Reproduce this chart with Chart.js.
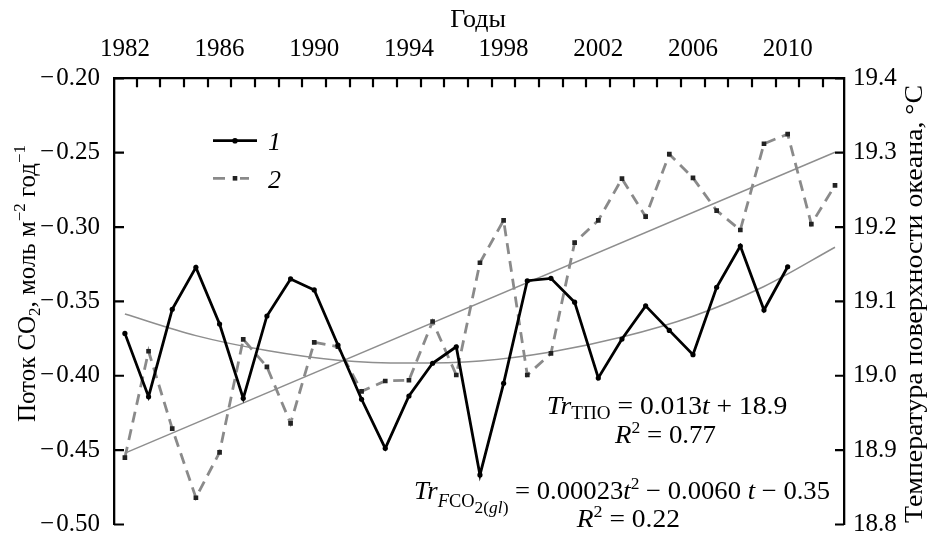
<!DOCTYPE html>
<html><head><meta charset="utf-8">
<script src="https://cdn.jsdelivr.net/npm/chart.js@4.4.0/dist/chart.umd.min.js"></script>
<style>html,body{margin:0;padding:0;background:#fff;}#wrap{width:928px;height:536px;}</style>
</head><body><div id="wrap"><canvas id="c" width="928" height="536" style="width:928px;height:536px"></canvas></div>
<script>
// ---- data ----
const fluxYears = [1982,1983,1984,1985,1986,1987,1988,1989,1990,1991,1992,1993,1994,1995,1996,1997,1998,1999,2000,2001,2002,2003,2004,2005,2006,2007,2008,2009,2010];
const fluxValues = [-0.3715,-0.4141,-0.3553,-0.3271,-0.3652,-0.4152,-0.3598,-0.3349,-0.3423,-0.3793,-0.4158,-0.4488,-0.4136,-0.3916,-0.3805,-0.4667,-0.4051,-0.3361,-0.3345,-0.3505,-0.4015,-0.3753,-0.3530,-0.3695,-0.3858,-0.3405,-0.3128,-0.3558,-0.3267];
const sstYears = [1982,1983,1984,1985,1986,1987,1988,1989,1990,1991,1992,1993,1994,1995,1996,1997,1998,1999,2000,2001,2002,2003,2004,2005,2006,2007,2008,2009,2010,2011,2012];
const sstValues = [18.890,19.033,18.929,18.836,18.897,19.049,19.012,18.936,19.045,19.039,18.979,18.993,18.994,19.073,19.001,19.152,19.209,19.001,19.030,19.179,19.209,19.265,19.214,19.298,19.266,19.222,19.196,19.312,19.325,19.204,19.256];
const sstTrendYears = [1982,2012];
const sstTrendValues = [18.896,19.3005];
const fluxTrendYears = [1982,1985,1988,1991,1994,1997,2000,2003,2006,2009,2012];
const fluxTrendValues = [-0.3585,-0.3730,-0.3830,-0.3895,-0.3915,-0.3900,-0.3840,-0.3740,-0.3600,-0.3400,-0.3136];
const xTickYears = [1982,1986,1990,1994,1998,2002,2006,2010];
const leftTicks = [-0.50,-0.45,-0.40,-0.35,-0.30,-0.25,-0.20];
const rightTicks = [18.8,18.9,19.0,19.1,19.2,19.3,19.4];
const seriesLabels = ['1','2'];

const FAM = '"Liberation Serif","DejaVu Serif",serif';
const pts = (xs, ys) => xs.map((x, i) => ({x: x, y: ys[i]}));

function fontStr(size, it){ return (it ? 'italic ' : '') + size + 'px ' + FAM; }
// segs: [text, size, italic, dy]
function richWidth(ctx, segs){
  let w = 0;
  for (const s of segs){ ctx.font = fontStr(s[1], s[2]); w += ctx.measureText(s[0]).width; }
  return w;
}
function drawRich(ctx, segs, x, y, align, targetW){
  const w = richWidth(ctx, segs);
  const W = targetW || w;
  const x0 = align === 'center' ? x - W/2 : (align === 'right' ? x - W : x);
  ctx.save();
  ctx.translate(x0, y);
  ctx.scale(W / w, 1);
  ctx.textBaseline = 'alphabetic'; ctx.textAlign = 'left'; ctx.fillStyle = '#000';
  let cx = 0;
  for (const s of segs){
    ctx.font = fontStr(s[1], s[2]);
    ctx.fillText(s[0], cx, s[3] || 0);
    cx += ctx.measureText(s[0]).width;
  }
  ctx.restore();
}

const decor = {
  id: 'decor',
  afterDraw(chart){
    const ctx = chart.ctx, a = chart.chartArea;
    const sx = chart.scales.x, sy = chart.scales.y, sy2 = chart.scales.y2;
    ctx.save();
    ctx.strokeStyle = '#000'; ctx.lineWidth = 2.2;
    // inward tick marks
    ctx.beginPath();
    for (let v = 1982.5; v < 2012; v += 1){
      const px = Math.round(sx.getPixelForValue(v));
      ctx.moveTo(px, a.top); ctx.lineTo(px, a.top + 9);
    }
    for (const v of leftTicks){
      const py = sy.getPixelForValue(v);
      ctx.moveTo(a.left, py); ctx.lineTo(a.left + 10, py);
    }
    for (const v of rightTicks){
      const py = sy2.getPixelForValue(v);
      ctx.moveTo(a.right, py); ctx.lineTo(a.right - 9, py);
    }
    ctx.stroke();

    // legend
    const ds = chart.data.datasets;
    const lx0 = 213, lx1 = 257;
    const rows = [[0, 140.7], [1, 178.3]];
    for (const [i, ly] of rows){
      const d = ds[i];
      ctx.save();
      ctx.strokeStyle = d.borderColor; ctx.lineWidth = d.borderWidth;
      ctx.beginPath();
      if (i === 1){ ctx.moveTo(lx0, ly); ctx.lineTo(225, ly); ctx.moveTo(240, ly); ctx.lineTo(249, ly); }
      else { ctx.moveTo(lx0, ly); ctx.lineTo(lx1, ly); }
      ctx.stroke();
      ctx.restore();
      ctx.fillStyle = d.pointBackgroundColor;
      if (i === 0){ ctx.beginPath(); ctx.arc(235, ly, 2.8, 0, Math.PI*2); ctx.fill(); }
      else { ctx.fillRect(235 - 2.3, ly - 2.3, 4.6, 4.6); }
      ctx.font = fontStr(26, true); ctx.fillStyle = '#000'; ctx.textBaseline = 'alphabetic';
      ctx.fillText(seriesLabels[i], 268, ly + 9.5);
    }

    // annotations
    drawRich(ctx, [['Tr',26,true],['ТПО',18,false,5],[' = 0.013',26,false],['t',26,true],[' + 18.9',26,false]], 546.7, 414, 'left', 240.6);
    drawRich(ctx, [['R',26,true],['2',17,false,-10],[' = 0.77',26,false]], 615, 443, 'left', 101);
    drawRich(ctx, [['Tr',26,true],['F',18,true,8],['CO',18,false,8],['2(',17,false,14],['gl',17,true,14],[')',17,false,14],[' = 0.00023',26,false],['t',26,true],['2',17,false,-10],[' − 0.0060 ',26,false],['t',26,true],[' − 0.35',26,false]], 414, 499, 'left', 416);
    drawRich(ctx, [['R',26,true],['2',17,false,-10],[' = 0.22',26,false]], 576.7, 527, 'left', 103.3);

    // top title
    drawRich(ctx, [['Годы',26,false]], 478, 27, 'center');

    // left axis title (rotated)
    ctx.save();
    ctx.translate(0, 283.5); ctx.rotate(-Math.PI/2);
    drawRich(ctx, [['Поток CO',25,false],['2',17,false,5],[', моль м',25,false],['−2',17,false,-10],[' год',25,false],['−1',17,false,-10]], 0, 35, 'center', 277);
    ctx.restore();
    // right axis title
    ctx.save();
    ctx.translate(0, 304); ctx.rotate(-Math.PI/2);
    drawRich(ctx, [['Температура поверхности океана, °C',26,false]], 0, 922, 'center', 438);
    ctx.restore();
    ctx.restore();
  }
};

const tickFont = {family: FAM, size: 25};
new Chart(document.getElementById('c'), {
  type: 'line',
  data: {
    datasets: [
      {label: seriesLabels[0], data: pts(fluxYears, fluxValues), yAxisID: 'y', borderColor: '#000', borderWidth: 2.8,
       pointRadius: 2.6, pointStyle: 'circle', pointBackgroundColor: '#000', pointBorderColor: '#000', pointBorderWidth: 0, tension: 0, fill: false},
      {label: seriesLabels[1], data: pts(sstYears, sstValues), yAxisID: 'y2', borderColor: '#8a8a8a', borderWidth: 2.8, borderDash: [11, 7],
       pointRadius: 3.3, pointStyle: 'rect', pointBackgroundColor: '#222', pointBorderColor: '#222', pointBorderWidth: 0, tension: 0, fill: false},
      {label: 'trend2', data: pts(sstTrendYears, sstTrendValues), yAxisID: 'y2', borderColor: '#8e8e8e', borderWidth: 1.5, pointRadius: 0, tension: 0, fill: false},
      {label: 'trend1', data: pts(fluxTrendYears, fluxTrendValues), yAxisID: 'y', borderColor: '#8e8e8e', borderWidth: 1.5, pointRadius: 0, cubicInterpolationMode: 'monotone', fill: false}
    ]
  },
  options: {
    responsive: false, animation: false, devicePixelRatio: 1,
    layout: {padding: {top: 0, left: 0, right: 0, bottom: 11.5}},
    plugins: {legend: {display: false}, tooltip: {enabled: false}},
    scales: {
      x: {type: 'linear', position: 'top', min: 1981.54, max: 2012.38,
          grid: {display: false, drawTicks: false}, border: {display: true, color: '#000', width: 2.3},
          ticks: {font: tickFont, color: '#000', padding: 14, maxRotation: 0, autoSkip: false, callback: v => String(v)},
          afterBuildTicks: s => { s.ticks = xTickYears.map(v => ({value: v})); },
          afterFit: s => { s.height = 78.3; s.paddingLeft = s.paddingRight = s.paddingTop = s.paddingBottom = 0; }},
      y: {type: 'linear', position: 'left', min: -0.5, max: -0.2,
          grid: {display: false, drawTicks: false}, border: {display: true, color: '#000', width: 2.3},
          ticks: {font: tickFont, color: '#000', padding: 14, callback: v => '−\u200A' + Math.abs(v).toFixed(2)},
          afterBuildTicks: s => { s.ticks = leftTicks.map(v => ({value: v})); },
          afterFit: s => { s.width = 114; s.paddingLeft = s.paddingRight = s.paddingTop = s.paddingBottom = 0; }},
      y2: {type: 'linear', position: 'right', min: 18.8, max: 19.4,
          grid: {display: false, drawTicks: false}, border: {display: true, color: '#000', width: 2.3},
          ticks: {font: tickFont, color: '#000', padding: 9, callback: v => v.toFixed(1)},
          afterBuildTicks: s => { s.ticks = rightTicks.map(v => ({value: v})); },
          afterFit: s => { s.width = 84; s.paddingLeft = s.paddingRight = s.paddingTop = s.paddingBottom = 0; }}
    }
  },
  plugins: [decor]
});
</script></body></html>
